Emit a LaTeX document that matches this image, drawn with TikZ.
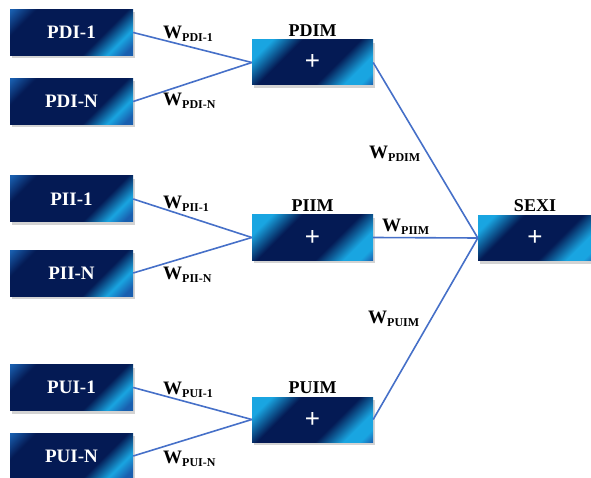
\documentclass[tikz,border=0pt]{standalone}
\usepackage{fontspec}
\setmainfont{Liberation Serif}
\newfontfamily\plusfont{Liberation Sans}
\usetikzlibrary{shadows}
\definecolor{navyc}{RGB}{4,26,84}
\definecolor{midc}{RGB}{25,95,175}
\definecolor{cyanc}{RGB}{25,165,225}
\definecolor{linec}{RGB}{70,112,200}
\pgfdeclareverticalshading{inshade}{200bp}{color(0bp)=(midc); color(50bp)=(midc); color(65bp)=(navyc); color(120bp)=(navyc); color(135bp)=(cyanc); color(145bp)=(midc); color(200bp)=(midc)}
\pgfdeclareverticalshading{sumshade}{200bp}{color(0bp)=(cyanc); color(62bp)=(cyanc); color(80bp)=(navyc); color(115bp)=(navyc); color(132bp)=(cyanc); color(142bp)=(cyanc); color(150bp)=(midc); color(200bp)=(midc)}
\tikzset{
  boxbase/.style={fill=navyc, inner sep=0pt, text=white,
    drop shadow={shadow xshift=2pt, shadow yshift=-3pt, opacity=0.35}},
  shadefill/.style={path picture={\node[inner sep=0pt, outer sep=0pt, rotate=-135, scale=1.17]
      at (path picture bounding box.center) {\pgfuseshading{#1}};}},
  box/.style={boxbase, shadefill=inshade, minimum width=123pt, minimum height=46pt,
    font=\fontsize{19}{19}\selectfont\bfseries},
  sumbox/.style={boxbase, shadefill=sumshade, minimum width=121pt, minimum height=45pt,
    font=\plusfont\fontsize{26}{26}\selectfont},
  wire/.style={draw=linec, line width=1.6pt},
  ttl/.style={font=\fontsize{18}{18}\selectfont\bfseries},
  wl/.style={font=\fontsize{19}{19}\selectfont\bfseries, inner sep=0pt}
}
\newcommand{\wsub}[1]{W\textsubscript{\fontsize{12}{12}\selectfont #1}}
\begin{document}
\begin{tikzpicture}[x=1pt,y=-1pt]
\useasboundingbox (0,0) rectangle (591,478);
% inputs
\node[box] (pd1) at (71.5,32.5) {PDI-1};
\node[box] (pdn) at (71.5,101.5) {PDI-N};
\node[box] (pi1) at (71.5,199) {PII-1};
\node[box] (pin) at (71.5,273) {PII-N};
\node[box] (pu1) at (71.5,387.5) {PUI-1};
\node[box] (pun) at (71.5,456) {PUI-N};
% merges
\node[sumbox] (pdim) at (312.5,62.5) {+};
\node[sumbox] (piim) at (312.5,237.5) {+};
\node[sumbox] (puim) at (312.5,419.5) {+};
\node[sumbox, minimum width=114pt] (sexi) at (535,238) {+};
% titles
\node[ttl, anchor=south] (tpdim) at (pdim.north) {PDIM};
\node[ttl, anchor=south] (tpiim) at (piim.north) {PIIM};
\node[ttl, anchor=south] (tpuim) at (puim.north) {PUIM};
\node[ttl, anchor=south] (tsexi) at (sexi.north) {SEXI};
% wires
\draw[wire] (pd1.east) -- (pdim.west);
\draw[wire] (pdn.east) -- (pdim.west);
\draw[wire] (pi1.east) -- (piim.west);
\draw[wire] (pin.east) -- (piim.west);
\draw[wire] (pu1.east) -- (puim.west);
\draw[wire] (pun.east) -- (puim.west);
\draw[wire] (pdim.east) -- (sexi.west);
\draw[wire] (piim.east) -- (sexi.west);
\draw[wire] (puim.east) -- (sexi.west);
% weights
\node[wl, anchor=west] (w1) at (163,34) {\wsub{PDI-1}};
\node[wl, anchor=west] (w2) at (163,101) {\wsub{PDI-N}};
\node[wl, anchor=west] (w3) at (163,204) {\wsub{PII-1}};
\node[wl, anchor=west] (w4) at (163,275) {\wsub{PII-N}};
\node[wl, anchor=west] (w5) at (163,390) {\wsub{PUI-1}};
\node[wl, anchor=west] (w6) at (163,459) {\wsub{PUI-N}};
\node[wl, anchor=west] (w7) at (369,154) {\wsub{PDIM}};
\node[wl, anchor=west] (w8) at (382,227) {\wsub{PIIM}};
\node[wl, anchor=west] (w9) at (368,319) {\wsub{PUIM}};
\end{tikzpicture}
\end{document}
